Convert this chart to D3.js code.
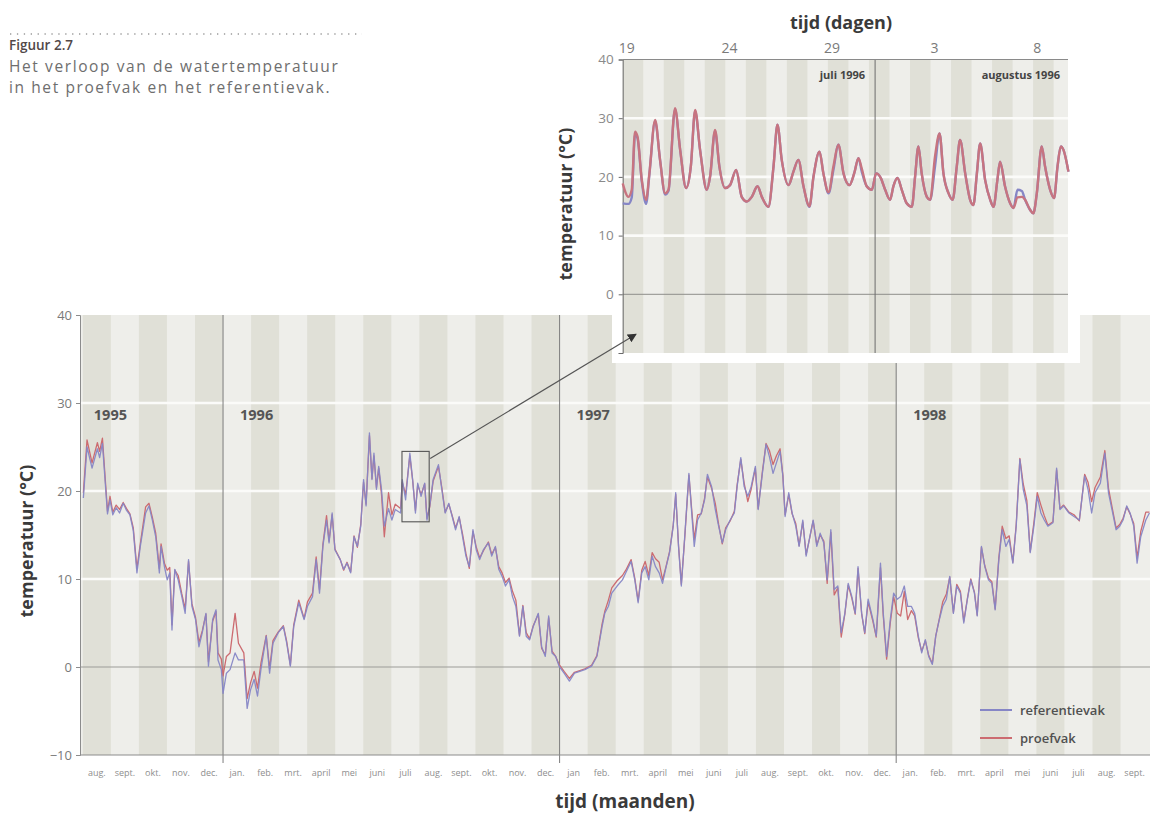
<!DOCTYPE html>
<html>
<head>
<meta charset="utf-8">
<script src="https://cdn.jsdelivr.net/npm/d3@7"></script>
<style>
  html, body { margin: 0; padding: 0; background: #fff; }
  svg { display: block; font-family: "Open Sans", sans-serif; }
</style>
</head>
<body>
<svg id="fig" width="1151" height="819"></svg>
<script>
// ---------- Hoofdgrafiek: aug 1995 t/m sept 1998 (tijd in maanden vanaf 1 aug 1995) ----------
const maandLabels = [
  "aug.", "sept.", "okt.", "nov.", "dec.",
  "jan.", "feb.", "mrt.", "april", "mei", "juni", "juli", "aug.", "sept.", "okt.", "nov.", "dec.",
  "jan", "feb.", "mrt.", "april", "mei", "juni", "juli", "aug.", "sept.", "okt.", "nov.", "dec.",
  "jan.", "feb.", "mrt.", "april", "mei", "juni", "juli", "aug.", "sept."
];
const jaarLabels = ["1995", "1996", "1997", "1998"];
const jaarStart  = [0, 5, 17, 29];          // maand waarop het jaar begint
const yTicks = [40, 30, 20, 10, 0, -10];

const maanden = [
  0.02, 0.15, 0.33, 0.52, 0.60, 0.70, 0.88, 0.97, 1.07, 1.19, 1.31, 1.44, 1.56, 1.68, 1.80, 1.93,
  2.05, 2.24, 2.36, 2.48, 2.60, 2.73, 2.79, 2.91, 3.01, 3.10, 3.18, 3.28, 3.40, 3.53, 3.65, 3.77,
  3.89, 4.02, 4.14, 4.26, 4.39, 4.48, 4.63, 4.75, 4.82, 4.94, 5.00, 5.12, 5.25, 5.43, 5.55, 5.74,
  5.86, 5.98, 6.11, 6.23, 6.35, 6.54, 6.66, 6.78, 6.97, 7.15, 7.27, 7.40, 7.52, 7.70, 7.89, 8.01,
  8.19, 8.32, 8.44, 8.56, 8.69, 8.78, 8.89, 8.99, 9.18, 9.30, 9.42, 9.55, 9.67, 9.79, 9.91, 10.01,
  10.10, 10.22, 10.31, 10.38, 10.47, 10.55, 10.65, 10.75, 10.90, 11.02, 11.14, 11.33, 11.39, 11.51, 11.66, 11.76,
  11.86, 11.94, 12.06, 12.19, 12.27, 12.37, 12.49, 12.68, 12.80, 12.92, 13.05, 13.17, 13.29, 13.42, 13.54, 13.66,
  13.78, 13.91, 14.03, 14.15, 14.28, 14.46, 14.58, 14.71, 14.83, 14.95, 15.07, 15.20, 15.32, 15.44, 15.57, 15.69,
  15.81, 15.93, 16.06, 16.24, 16.36, 16.49, 16.61, 16.73, 16.86, 16.98, 17.16, 17.35, 17.53, 17.72, 17.90, 18.14,
  18.33, 18.51, 18.61, 18.74, 18.86, 19.05, 19.24, 19.36, 19.55, 19.68, 19.80, 19.93, 20.05, 20.18, 20.30, 20.42,
  20.55, 20.67, 20.80, 20.92, 21.05, 21.14, 21.24, 21.34, 21.46, 21.61, 21.71, 21.80, 21.92, 22.05, 22.17, 22.27,
  22.42, 22.55, 22.67, 22.80, 22.92, 23.08, 23.23, 23.33, 23.46, 23.58, 23.71, 23.83, 23.98, 24.08, 24.23, 24.36,
  24.48, 24.61, 24.73, 24.86, 24.96, 25.04, 25.17, 25.29, 25.42, 25.54, 25.67, 25.79, 25.92, 26.04, 26.17, 26.29,
  26.42, 26.54, 26.67, 26.79, 26.92, 27.04, 27.17, 27.29, 27.42, 27.54, 27.64, 27.77, 27.88, 28.00, 28.17, 28.29,
  28.44, 28.54, 28.66, 28.79, 28.91, 29.04, 29.16, 29.29, 29.41, 29.54, 29.66, 29.79, 29.91, 30.04, 30.16, 30.29,
  30.41, 30.54, 30.66, 30.79, 30.91, 31.04, 31.16, 31.29, 31.41, 31.54, 31.66, 31.79, 31.89, 32.04, 32.16, 32.29,
  32.41, 32.53, 32.66, 32.78, 32.91, 33.03, 33.16, 33.28, 33.41, 33.53, 33.66, 33.78, 33.91, 34.03, 34.16, 34.28,
  34.41, 34.59, 34.72, 34.84, 34.97, 35.16, 35.34, 35.53, 35.72, 35.84, 35.97, 36.09, 36.28, 36.44, 36.57, 36.72,
  36.84, 36.97, 37.09, 37.22, 37.34, 37.47, 37.59, 37.72, 37.90, 38.03
];
const referentievak = [
  19.2, 25.0, 22.6, 24.8, 23.8, 25.4, 17.4, 19.0, 17.3, 18.1, 17.5, 18.6, 17.8, 17.3, 15.5, 10.7,
  13.7, 17.5, 18.3, 16.7, 14.8, 10.7, 13.7, 11.4, 9.9, 10.7, 4.2, 11.1, 9.9, 8.0, 6.1, 12.2,
  6.9, 5.4, 2.3, 3.9, 6.1, 0.1, 5.4, 6.5, 0.8, -0.3, -3.0, -0.7, -0.3, 1.6, 0.8, 0.8,
  -4.7, -2.6, -1.4, -3.3, -0.3, 3.5, -0.7, 2.7, 3.9, 4.6, 2.7, 0.1, 4.6, 7.3, 5.4, 6.9,
  8.0, 12.2, 8.4, 13.7, 16.7, 14.1, 17.5, 13.3, 12.2, 11.1, 11.8, 10.7, 14.8, 13.7, 16.0, 21.3,
  18.3, 26.6, 21.3, 24.3, 20.2, 22.8, 20.2, 16.0, 18.0, 16.7, 17.9, 17.5, 21.3, 19.0, 24.3, 21.3,
  17.5, 20.9, 19.4, 20.9, 16.7, 18.3, 21.3, 23.0, 20.2, 17.5, 18.6, 17.1, 15.6, 17.1, 14.8, 12.6,
  11.4, 15.6, 13.3, 12.2, 13.3, 14.1, 12.6, 13.7, 11.1, 10.3, 9.2, 9.9, 8.0, 6.9, 3.5, 6.9,
  3.5, 3.1, 4.6, 6.1, 2.3, 1.2, 5.8, 1.6, 1.2, 0.1, -0.7, -1.6, -0.7, -0.5, -0.3, 0.1,
  1.2, 4.5, 6.1, 6.9, 8.4, 9.2, 9.9, 10.7, 12.0, 9.9, 7.3, 10.7, 11.4, 9.9, 12.6, 11.4,
  10.7, 9.5, 11.4, 13.0, 16.0, 19.8, 13.7, 9.2, 14.8, 22.0, 17.5, 13.7, 16.7, 17.5, 19.0, 21.9,
  20.5, 17.9, 16.0, 14.1, 15.6, 16.7, 17.5, 20.5, 23.8, 20.5, 19.4, 20.5, 22.8, 17.9, 22.0, 25.3,
  23.9, 22.0, 23.2, 24.5, 21.7, 17.1, 19.8, 17.5, 16.0, 13.7, 16.7, 12.6, 14.8, 16.7, 13.7, 15.2,
  14.1, 9.9, 15.6, 8.8, 9.2, 3.9, 6.1, 9.5, 8.0, 6.1, 11.4, 6.1, 3.9, 7.7, 5.4, 3.5,
  11.8, 6.1, 1.2, 5.4, 8.4, 7.7, 8.0, 9.2, 6.9, 6.9, 6.1, 3.5, 1.6, 3.1, 1.2, 0.3,
  3.5, 5.4, 6.9, 7.7, 10.3, 6.1, 9.2, 8.4, 5.0, 7.7, 9.9, 8.4, 5.8, 13.7, 11.4, 9.9,
  9.5, 6.5, 12.2, 15.6, 13.7, 14.5, 11.8, 16.0, 23.6, 20.2, 18.3, 13.0, 16.0, 19.4, 17.5, 16.7,
  16.0, 16.4, 22.6, 17.9, 18.3, 17.5, 17.1, 16.7, 21.7, 20.2, 17.5, 19.8, 20.9, 24.3, 19.8, 17.5,
  15.6, 16.0, 16.7, 18.3, 17.5, 16.0, 11.8, 14.8, 16.7, 17.5
];
const proefvak = [
  19.8, 25.8, 23.2, 25.5, 24.5, 26.0, 17.7, 19.4, 17.6, 18.4, 17.9, 18.7, 18.0, 17.4, 15.8, 11.2,
  14.0, 18.2, 18.6, 17.0, 15.2, 11.2, 14.0, 11.8, 11.0, 11.3, 4.8, 11.0, 10.4, 8.3, 6.6, 12.0,
  7.2, 5.6, 2.8, 4.1, 6.0, 0.6, 5.2, 6.3, 1.6, 0.9, -1.0, 1.2, 1.6, 6.1, 2.7, 1.6,
  -3.6, -1.8, -0.5, -2.4, 0.4, 3.6, -0.2, 3.0, 4.0, 4.7, 2.9, 0.2, 4.8, 7.6, 5.5, 7.4,
  8.4, 12.5, 8.8, 13.9, 17.2, 14.3, 17.3, 13.4, 12.2, 11.0, 11.9, 10.8, 14.9, 13.6, 16.2, 21.0,
  18.5, 26.3, 21.4, 24.0, 20.4, 22.6, 19.6, 14.8, 19.8, 17.3, 18.5, 18.0, 21.0, 19.6, 24.0, 21.2,
  17.8, 20.7, 19.6, 20.8, 16.9, 18.2, 21.1, 22.8, 20.4, 17.6, 18.5, 17.2, 15.8, 17.0, 15.1, 12.9,
  11.2, 15.4, 13.6, 12.4, 13.2, 14.2, 12.8, 13.6, 11.4, 10.7, 9.6, 10.1, 8.6, 7.6, 3.6, 7.0,
  3.9, 3.2, 4.7, 6.0, 2.1, 1.4, 5.6, 1.8, 1.2, 0.3, -0.5, -1.3, -0.6, -0.4, -0.2, 0.2,
  1.3, 4.8, 6.3, 7.6, 9.0, 9.8, 10.4, 11.0, 12.2, 10.1, 7.5, 11.0, 12.0, 10.4, 13.0, 12.3,
  11.9, 9.9, 11.5, 13.1, 16.1, 19.6, 13.8, 9.4, 14.6, 21.8, 17.9, 14.5, 17.3, 17.4, 19.2, 21.6,
  20.3, 18.6, 16.2, 14.0, 15.8, 16.6, 17.7, 20.7, 23.6, 20.9, 18.8, 20.2, 22.6, 18.0, 22.2, 25.4,
  24.6, 23.0, 24.0, 24.8, 21.8, 17.3, 19.6, 17.4, 16.3, 13.8, 16.5, 12.8, 14.7, 16.6, 13.9, 15.0,
  14.3, 9.5, 15.3, 8.2, 9.0, 3.4, 6.0, 9.3, 7.8, 6.0, 11.2, 6.0, 3.8, 7.4, 5.2, 3.4,
  11.3, 5.8, 0.9, 5.0, 8.0, 6.1, 5.8, 8.6, 5.4, 6.4, 5.8, 3.3, 1.8, 3.0, 1.3, 0.4,
  3.5, 5.5, 7.4, 8.3, 10.2, 6.2, 9.4, 8.6, 5.2, 7.8, 10.0, 8.5, 5.9, 13.6, 11.5, 10.1,
  9.7, 6.6, 12.4, 16.0, 14.6, 14.9, 11.9, 16.2, 23.7, 20.8, 18.9, 13.1, 16.4, 19.8, 18.4, 17.2,
  16.1, 16.5, 22.4, 18.0, 18.4, 17.6, 17.3, 16.6, 21.9, 21.0, 18.8, 20.4, 21.6, 24.6, 20.3, 17.8,
  15.8, 16.2, 16.9, 18.2, 17.4, 16.3, 12.4, 15.4, 17.6, 17.6
];

// ---------- Inzet: 19 juli t/m 9 augustus 1996 (tijd in dagen vanaf 19 juli) ----------
const dagTicks  = [0, 5, 10, 15, 20];
const dagLabels = ["19", "24", "29", "3", "8"];
const maandNamenInzet = ["juli 1996", "augustus 1996"];
const maandwissel = 12.1;                      // overgang juli -> augustus
const yTicksInzet = [40, 30, 20, 10, 0];

const dagen = [
  -0.20, 0.08, 0.24, 0.40, 0.52, 0.73, 0.94, 1.10, 1.38, 1.62, 1.87, 2.03, 2.35, 2.60, 2.89, 3.12,
  3.33, 3.57, 3.90, 4.06, 4.30, 4.51, 4.79, 5.03, 5.33, 5.60, 5.85, 6.09, 6.37, 6.58, 6.90, 7.15,
  7.34, 7.55, 7.88, 8.12, 8.36, 8.61, 8.90, 9.10, 9.39, 9.58, 9.83, 10.07, 10.31, 10.56, 10.85, 11.08,
  11.29, 11.45, 11.69, 11.94, 12.15, 12.38, 12.59, 12.83, 12.99, 13.19, 13.40, 13.64, 13.89, 14.05, 14.21, 14.37,
  14.62, 14.78, 15.02, 15.24, 15.43, 15.68, 15.88, 16.08, 16.24, 16.49, 16.73, 16.89, 17.06, 17.22, 17.46, 17.71,
  17.87, 18.06, 18.19, 18.43, 18.68, 18.84, 19.04, 19.25, 19.41, 19.65, 19.81, 19.98, 20.22, 20.38, 20.63, 20.82,
  20.99, 21.15, 21.28, 21.52
];
const referentievakDag = [
  15.5, 15.4, 16.5, 27.2, 26.6, 19.3, 15.4, 20.4, 29.5, 22.9, 17.0, 17.6, 31.5, 24.6, 18.1, 21.8,
  31.2, 24.6, 17.8, 20.1, 27.8, 21.8, 18.1, 18.6, 21.2, 16.6, 15.8, 16.6, 18.4, 16.6, 14.9, 21.8,
  28.9, 22.9, 18.6, 20.9, 22.9, 18.4, 14.9, 20.1, 24.3, 20.6, 17.2, 21.2, 25.5, 20.6, 18.6, 20.6,
  23.2, 20.9, 18.4, 17.8, 20.6, 19.8, 17.8, 16.1, 18.4, 19.8, 17.8, 15.5, 14.9, 20.1, 25.2, 20.6,
  16.6, 16.1, 21.8, 27.4, 20.6, 17.2, 16.1, 21.8, 26.3, 20.6, 16.1, 15.2, 20.6, 25.7, 19.5, 16.1,
  14.9, 19.5, 22.6, 18.4, 15.5, 14.7, 17.8, 17.6, 16.1, 14.4, 13.8, 17.2, 25.2, 21.8, 17.8, 16.4,
  21.8, 25.2, 24.6, 20.9
];
const proefvakDag = [
  18.9, 16.6, 17.8, 27.7, 26.9, 19.5, 16.1, 20.6, 29.7, 22.9, 17.2, 17.8, 31.7, 24.6, 18.1, 21.8,
  31.4, 24.6, 17.8, 20.1, 28.0, 21.8, 18.1, 18.6, 21.2, 16.6, 15.8, 16.6, 18.4, 16.6, 14.9, 21.8,
  28.9, 22.9, 18.6, 20.9, 22.9, 18.4, 15.0, 20.1, 24.3, 20.6, 17.4, 21.8, 25.5, 20.6, 18.6, 20.6,
  23.2, 21.4, 18.4, 17.8, 20.6, 19.8, 17.8, 16.1, 18.4, 19.8, 17.8, 15.5, 14.9, 20.1, 25.2, 20.6,
  16.6, 16.1, 23.5, 27.4, 20.6, 17.2, 16.1, 21.8, 26.3, 20.6, 16.1, 15.2, 20.6, 25.7, 19.5, 16.1,
  14.9, 19.5, 22.6, 18.4, 15.5, 14.7, 16.5, 16.6, 16.1, 14.4, 13.8, 17.2, 25.2, 21.8, 17.8, 16.4,
  21.8, 25.2, 24.6, 20.9
];

// ---------- Kleuren ----------
const kleurRef = "#8686c6";
const kleurProef = "#cc6b70";
const streepDonker = "#e0e0d7";
const streepLicht = "#eeeeea";

const svg = d3.select("#fig");

// ---------- Figuurkop ----------
svg.append("line")
  .attr("x1", 10).attr("x2", 362).attr("y1", 34).attr("y2", 34)
  .attr("stroke", "#9a9a9a").attr("stroke-width", 1.3)
  .attr("stroke-dasharray", "1.3 5.6");
svg.append("text").attr("x", 9).attr("y", 50)
  .attr("font-size", 13.5).attr("font-weight", 600).attr("fill", "#524848")
  .text("Figuur 2.7");
svg.append("text").attr("x", 9).attr("y", 71.5)
  .attr("font-size", 15.5).attr("fill", "#6e6e6e").attr("letter-spacing", 1.6)
  .text("Het verloop van de watertemperatuur");
svg.append("text").attr("x", 9).attr("y", 92.5)
  .attr("font-size", 15.5).attr("fill", "#6e6e6e").attr("letter-spacing", 1.6)
  .text("in het proefvak en het referentievak.");

// ---------- Hoofdgrafiek ----------
const x = d3.scaleLinear().domain([-0.1, 38.05]).range([80, 1150]);
const y = d3.scaleLinear().domain([-10, 40]).range([755, 315]);
const [xL, xR] = x.range();
const main = svg.append("g");

main.append("rect").attr("x", xL).attr("y", y(40))
  .attr("width", xR - xL).attr("height", y(-10) - y(40)).attr("fill", streepLicht);
main.selectAll("rect.maand").data(maandLabels).join("rect")
  .attr("class", "maand")
  .attr("x", (d, i) => Math.max(xL, x(i)))
  .attr("y", y(40))
  .attr("width", (d, i) => Math.min(xR, x(i + 1)) - Math.max(xL, x(i)))
  .attr("height", y(-10) - y(40))
  .attr("fill", (d, i) => i % 2 === 0 ? streepDonker : "none");

// witte rasterlijnen
main.selectAll("line.raster").data([10, 20, 30]).join("line")
  .attr("class", "raster")
  .attr("x1", xL).attr("x2", xR).attr("y1", d => y(d)).attr("y2", d => y(d))
  .attr("stroke", "#fbfbf9").attr("stroke-width", 2.6);
// nullijn
main.append("line").attr("x1", xL).attr("x2", xR).attr("y1", y(0)).attr("y2", y(0))
  .attr("stroke", "#9c9c98").attr("stroke-width", 1);

// jaargrenzen
main.selectAll("line.jaar").data(jaarStart.slice(1)).join("line")
  .attr("class", "jaar")
  .attr("x1", d => x(d)).attr("x2", d => x(d))
  .attr("y1", y(40)).attr("y2", y(-10) + 8)
  .attr("stroke", "#7c7c7c").attr("stroke-width", 1);
main.selectAll("text.jaar").data(jaarLabels).join("text")
  .attr("class", "jaar")
  .attr("x", (d, i) => x(jaarStart[i]) + (i === 0 ? 11 : 17))
  .attr("y", 420)
  .attr("font-size", 14.5).attr("font-weight", 700).attr("fill", "#555")
  .text(d => d);

// assen
const yAxis = d3.axisLeft(y).tickValues(yTicks).tickSize(4).tickPadding(4).tickFormat(d3.format("d"));
const gy = main.append("g").attr("transform", `translate(${xL},0)`).call(yAxis);
gy.select(".domain").attr("stroke", "#8c8c8c");
gy.selectAll(".tick line").attr("stroke", "#8c8c8c");
gy.selectAll(".tick text").attr("font-size", 13).attr("fill", "#7a7a7a")
  .attr("font-family", "Open Sans, sans-serif");

main.append("line").attr("x1", xL).attr("x2", xR).attr("y1", y(-10)).attr("y2", y(-10))
  .attr("stroke", "#8c8c8c").attr("stroke-width", 1.2);

main.selectAll("text.maand").data(maandLabels).join("text")
  .attr("class", "maand")
  .attr("x", (d, i) => x(i + 0.5))
  .attr("y", 776)
  .attr("text-anchor", "middle")
  .attr("font-size", 9).attr("fill", "#8e8e8e")
  .text(d => d);

// astitels
svg.append("text")
  .attr("transform", "translate(33,541) rotate(-90)")
  .attr("text-anchor", "middle")
  .attr("font-size", 18).attr("font-weight", 700).attr("fill", "#3a3a3a")
  .text("temperatuur (°C)");
svg.append("text")
  .attr("x", 625).attr("y", 808)
  .attr("text-anchor", "middle")
  .attr("font-size", 19).attr("font-weight", 700).attr("fill", "#3a3a3a")
  .text("tijd (maanden)");

// meetreeksen
const reeksMaand = (vals) => maanden.map((m, i) => ({ t: m, v: vals[i] }));
const lijn = d3.line().x(d => x(d.t)).y(d => y(d.v));
main.append("path").datum(reeksMaand(proefvak))
  .attr("d", lijn).attr("fill", "none")
  .attr("stroke", kleurProef).attr("stroke-width", 1.3).attr("stroke-linejoin", "round");
main.append("path").datum(reeksMaand(referentievak))
  .attr("d", lijn).attr("fill", "none")
  .attr("stroke", kleurRef).attr("stroke-width", 1.3).attr("stroke-linejoin", "round")
  .attr("opacity", 0.95);

// legenda
const legenda = [["referentievak", kleurRef], ["proefvak", kleurProef]];
const lg = main.selectAll("g.leg").data(legenda).join("g")
  .attr("class", "leg")
  .attr("transform", (d, i) => `translate(980,${710 + i * 28})`);
lg.append("line").attr("x1", 0).attr("x2", 32).attr("y1", 0).attr("y2", 0)
  .attr("stroke", d => d[1]).attr("stroke-width", 2);
lg.append("text").attr("x", 40).attr("y", 4.5)
  .attr("font-size", 13).attr("font-weight", 600).attr("fill", "#505050")
  .text(d => d[0]);

// kader rond de uitvergrote periode
const kaderT = [11.38, 12.35], kaderV = [16.5, 24.5];
main.append("rect")
  .attr("x", x(kaderT[0])).attr("y", y(kaderV[1]))
  .attr("width", x(kaderT[1]) - x(kaderT[0])).attr("height", y(kaderV[0]) - y(kaderV[1]))
  .attr("fill", "none").attr("stroke", "#555").attr("stroke-width", 1.1);

// ---------- Inzet ----------
const xi = d3.scaleLinear().domain([-0.2, 21.5]).range([622.7, 1068]);
const yi = d3.scaleLinear().domain([-10, 40]).range([353, 59.5]);
const [xiL, xiR] = xi.range();
const inzet = svg.append("g");

inzet.append("rect").attr("x", 612).attr("y", 0).attr("width", 468).attr("height", 363)
  .attr("fill", "#fff");
inzet.append("rect").attr("x", xiL).attr("y", yi(40))
  .attr("width", xiR - xiL).attr("height", yi(-10) - yi(40)).attr("fill", streepLicht);
const dagStroken = d3.range(0, 22);
inzet.selectAll("rect.dag").data(dagStroken).join("rect")
  .attr("class", "dag")
  .attr("x", k => xi(-0.2 + k))
  .attr("y", yi(40))
  .attr("width", k => Math.min(xiR, xi(0.8 + k)) - xi(-0.2 + k))
  .attr("height", yi(-10) - yi(40))
  .attr("fill", k => k % 2 === 0 ? streepDonker : "none");

inzet.selectAll("line.raster").data([10, 20, 30]).join("line")
  .attr("class", "raster")
  .attr("x1", xiL).attr("x2", xiR).attr("y1", d => yi(d)).attr("y2", d => yi(d))
  .attr("stroke", "#fbfbf9").attr("stroke-width", 2.6);
inzet.append("line").attr("x1", xiL).attr("x2", xiR).attr("y1", yi(0)).attr("y2", yi(0))
  .attr("stroke", "#8e8e8a").attr("stroke-width", 1);
inzet.append("line").attr("x1", xi(maandwissel)).attr("x2", xi(maandwissel))
  .attr("y1", yi(40)).attr("y2", yi(-10))
  .attr("stroke", "#6c6c6c").attr("stroke-width", 1);

inzet.append("text").attr("x", xi(maandwissel) - 10).attr("y", 79)
  .attr("text-anchor", "end").attr("font-size", 11).attr("font-weight", 700).attr("fill", "#444")
  .text(maandNamenInzet[0]);
inzet.append("text").attr("x", xiR - 8).attr("y", 79)
  .attr("text-anchor", "end").attr("font-size", 11).attr("font-weight", 700).attr("fill", "#444")
  .text(maandNamenInzet[1]);

const yAxisI = d3.axisLeft(yi).tickValues(yTicksInzet.concat([-10])).tickSize(4).tickPadding(5)
  .tickFormat(d => d === -10 ? "" : d3.format("d")(d));
const gyi = inzet.append("g").attr("transform", `translate(${xiL},0)`).call(yAxisI);
gyi.select(".domain").attr("stroke", "#6a6a6a");
gyi.selectAll(".tick line").attr("stroke", "#6a6a6a");
gyi.selectAll(".tick text").attr("font-size", 13.5).attr("fill", "#8a8a8a")
  .attr("font-family", "Open Sans, sans-serif");

inzet.append("line").attr("x1", xiL).attr("x2", xiR).attr("y1", yi(40)).attr("y2", yi(40))
  .attr("stroke", "#8a8a8a").attr("stroke-width", 1.2);
inzet.selectAll("text.dag").data(dagTicks).join("text")
  .attr("class", "dag")
  .attr("x", d => xi(d)).attr("y", 53)
  .attr("text-anchor", "middle").attr("font-size", 14).attr("fill", "#7a7a7a")
  .text((d, i) => dagLabels[i]);

svg.append("text").attr("x", 841).attr("y", 29)
  .attr("text-anchor", "middle").attr("font-size", 18).attr("font-weight", 700).attr("fill", "#3a3a3a")
  .text("tijd (dagen)");
svg.append("text")
  .attr("transform", "translate(572,204) rotate(-90)")
  .attr("text-anchor", "middle")
  .attr("font-size", 18).attr("font-weight", 700).attr("fill", "#3a3a3a")
  .text("temperatuur (°C)");

const reeksDag = (vals) => dagen.map((d, i) => ({ t: d, v: vals[i] }));
const lijnI = d3.line().x(d => xi(d.t)).y(d => yi(d.v)).curve(d3.curveMonotoneX);
inzet.append("path").datum(reeksDag(referentievakDag))
  .attr("d", lijnI).attr("fill", "none")
  .attr("stroke", kleurRef).attr("stroke-width", 2.4).attr("stroke-linejoin", "round");
inzet.append("path").datum(reeksDag(proefvakDag))
  .attr("d", lijnI).attr("fill", "none")
  .attr("stroke", "#c77480").attr("stroke-width", 2.4).attr("stroke-linejoin", "round");

// ---------- Verwijspijl ----------
svg.append("defs").append("marker")
  .attr("id", "pijlpunt").attr("viewBox", "0 0 10 10").attr("refX", 9).attr("refY", 5)
  .attr("markerWidth", 9).attr("markerHeight", 9).attr("markerUnits", "userSpaceOnUse")
  .attr("orient", "auto")
  .append("path").attr("d", "M0,0 L10,5 L0,10 Z").attr("fill", "#333");
svg.append("line")
  .attr("x1", x(kaderT[1]) + 1).attr("y1", y(23.7))
  .attr("x2", xi(0.45)).attr("y2", yi(-6.8))
  .attr("stroke", "#555").attr("stroke-width", 1.1)
  .attr("marker-end", "url(#pijlpunt)");
</script>
</body>
</html>
